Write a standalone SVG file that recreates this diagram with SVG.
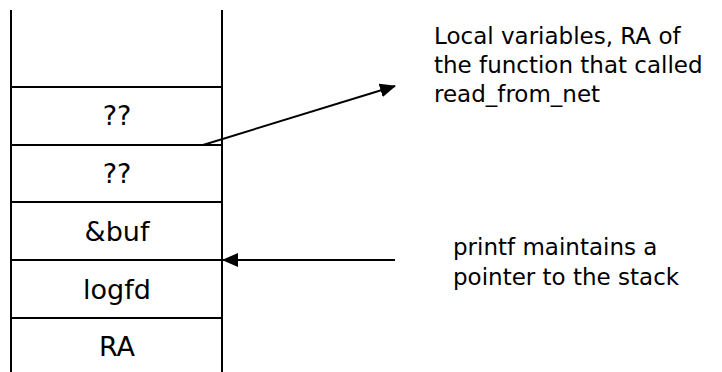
<svg xmlns="http://www.w3.org/2000/svg" width="722" height="372" viewBox="0 0 722 372">
<defs>
<style>
.ln{stroke:#000;stroke-width:2;fill:none}
.cell{font-family:"DejaVu Sans",sans-serif;font-size:27px;fill:#000;text-anchor:middle}
.note{font-family:"DejaVu Sans",sans-serif;font-size:23px;fill:#000}
</style>
<marker id="ah" viewBox="0 0 16 14" refX="15" refY="7" markerWidth="16" markerHeight="14" markerUnits="userSpaceOnUse" orient="auto">
<path d="M0,0 L16,7 L0,14 z" fill="#000"/>
</marker>
</defs>
<rect width="722" height="372" fill="#fff"/>
<g id="stack">
<line class="ln" x1="11" y1="10" x2="11" y2="372"/>
<line class="ln" x1="222" y1="10" x2="222" y2="372"/>
</g>
<g id="cell1"><line class="ln" x1="11" y1="87" x2="222" y2="87"/><text class="cell" x="117" y="125">??</text></g>
<g id="cell2"><line class="ln" x1="11" y1="145" x2="222" y2="145"/><text class="cell" x="117" y="183">??</text></g>
<g id="cell3"><line class="ln" x1="11" y1="202" x2="222" y2="202"/><text class="cell" x="117" y="241">&amp;buf</text></g>
<g id="cell4"><line class="ln" x1="11" y1="260" x2="222" y2="260"/><text class="cell" x="117" y="299">logfd</text></g>
<g id="cell5"><line class="ln" x1="11" y1="318" x2="222" y2="318"/><text class="cell" x="117" y="356">RA</text></g>
<g id="note1"><text class="note" x="434" y="44">Local variables, RA of</text><text class="note" x="434" y="73">the function that called</text><text class="note" x="434" y="102">read_from_net</text></g>
<g id="note2"><text class="note" x="453" y="255">printf maintains a</text><text class="note" x="453" y="285">pointer to the stack</text></g>
<g id="connectors">
<line x1="203" y1="145" x2="395" y2="86" stroke="#000" stroke-width="2" marker-end="url(#ah)"/>
<line x1="395" y1="260" x2="223" y2="260" stroke="#000" stroke-width="2" marker-end="url(#ah)"/>
</g>
</svg>
